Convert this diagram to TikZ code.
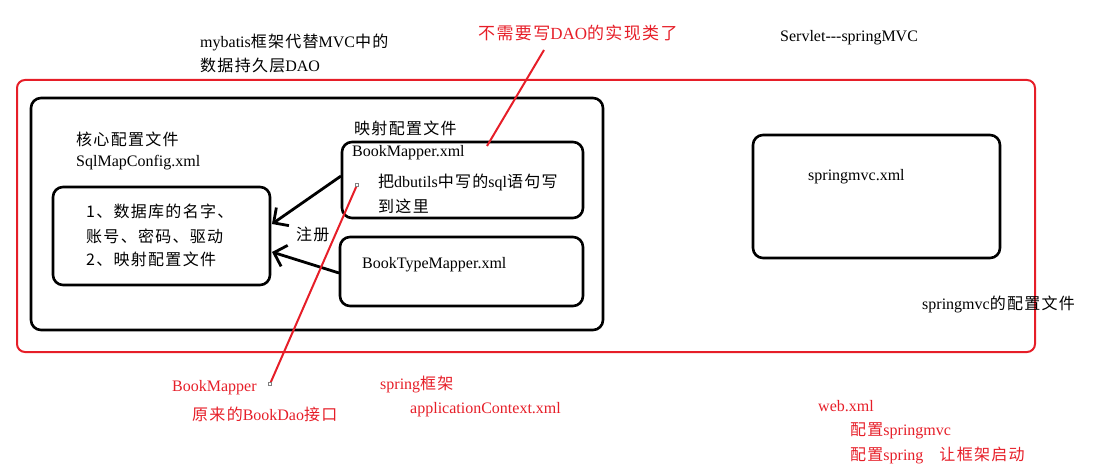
\documentclass[tikz,border=0pt]{standalone}
\usepackage{fontspec}
\usetikzlibrary{arrows.meta}
\setmainfont{Liberation Serif}
\newfontfamily\cjkf[LetterSpace=8]{Noto Sans CJK SC}
\newcommand{\zh}[1]{{\cjkf #1}}
\definecolor{rd}{RGB}{230,30,40}
\begin{document}
\begin{tikzpicture}[x=1pt,y=-1pt,
  every node/.style={font=\fontsize{16}{18}\selectfont,anchor=west,inner sep=0pt},
  red/.style={text=rd},
  bx/.style={draw=black,line width=2.6pt,rounded corners=10pt},
  ar/.style={line width=2.8pt,-{Straight Barb[length=11pt,width=22pt]}},
  rl/.style={draw=rd,line width=2pt},
  mk/.style={draw=gray,fill=white,line width=0.4pt,minimum size=3pt,inner sep=0pt,anchor=center}]
\useasboundingbox (0,0) rectangle (1107,470);
\draw[rd,line width=2pt,rounded corners=8pt] (17,80) rectangle (1035,352);
\draw[bx] (31,98) rectangle (603,330);
\draw[bx] (53,187) rectangle (270,285);
\draw[bx] (342,142) rectangle (583,218);
\draw[bx] (340,237) rectangle (583,306);
\draw[bx] (753,135) rectangle (1000,258);
\coordinate (a1) at (341,176); \coordinate (t1) at (272,224);
\coordinate (a2) at (339,273); \coordinate (t2) at (272,252);
\draw[ar] (a1) -- (t1);
\draw[ar] (a2) -- (t2);
\node (m1) at (200,42) {mybatis\zh{框架代替}MVC\zh{中的}};
\node (m2) at (200,65) {\zh{数据持久层}DAO};
\node[red,font=\fontsize{17}{19}\selectfont] (nd) at (478,33) {\zh{不需要写}DAO\zh{的实现类了}};
\node (sv) at (780,38) {Servlet-{}-{}-springMVC};
\node (hx) at (76,139) {\zh{核心配置文件}};
\node (sq) at (76,163) {SqlMapConfig.xml};
\node (l1) at (86,211) {\zh{1、数据库的名字、}};
\node (l2) at (86,236) {\zh{账号、密码、驱动}};
\node (l3) at (86,259) {\zh{2、映射配置文件}};
\node (ys) at (354,128) {\zh{映射配置文件}};
\node (bm) at (352,153) {BookMapper.xml};
\node (db) at (378,182) {\zh{把}dbutils\zh{中写的}sql\zh{语句写}};
\node (dz) at (378,206) {\zh{到这里}};
\node (zc) at (296,234) {\zh{注册}};
\node (bt) at (362,265) {BookTypeMapper.xml};
\node (sx) at (808,177) {springmvc.xml};
\node (sp) at (922,304) {springmvc\zh{的配置文件}};
\node[red] (r1) at (172,388) {BookMapper};
\node[red] (r2) at (192,414) {\zh{原来的}BookDao\zh{接口}};
\node[red] (s1) at (380,384) {spring\zh{框架}};
\node[red] (s2) at (410,410) {applicationContext.xml};
\node[red] (w1) at (818,406) {web.xml};
\node[red] (w2) at (850,431) {\zh{配置}springmvc};
\node[red] (w3) at (850,455) {\zh{配置}spring\quad\zh{让框架启动}};
\coordinate (e1) at (544,50); \coordinate (e2) at (487,146);
\draw[rl] (e1) -- (e2);
\coordinate (p1) at (357,185); \coordinate (p2) at (270,384);
\draw[rl] (p1) -- (p2);
\node[mk] (k1) at (p1) {};
\node[mk] (k2) at (p2) {};
\end{tikzpicture}
\end{document}
